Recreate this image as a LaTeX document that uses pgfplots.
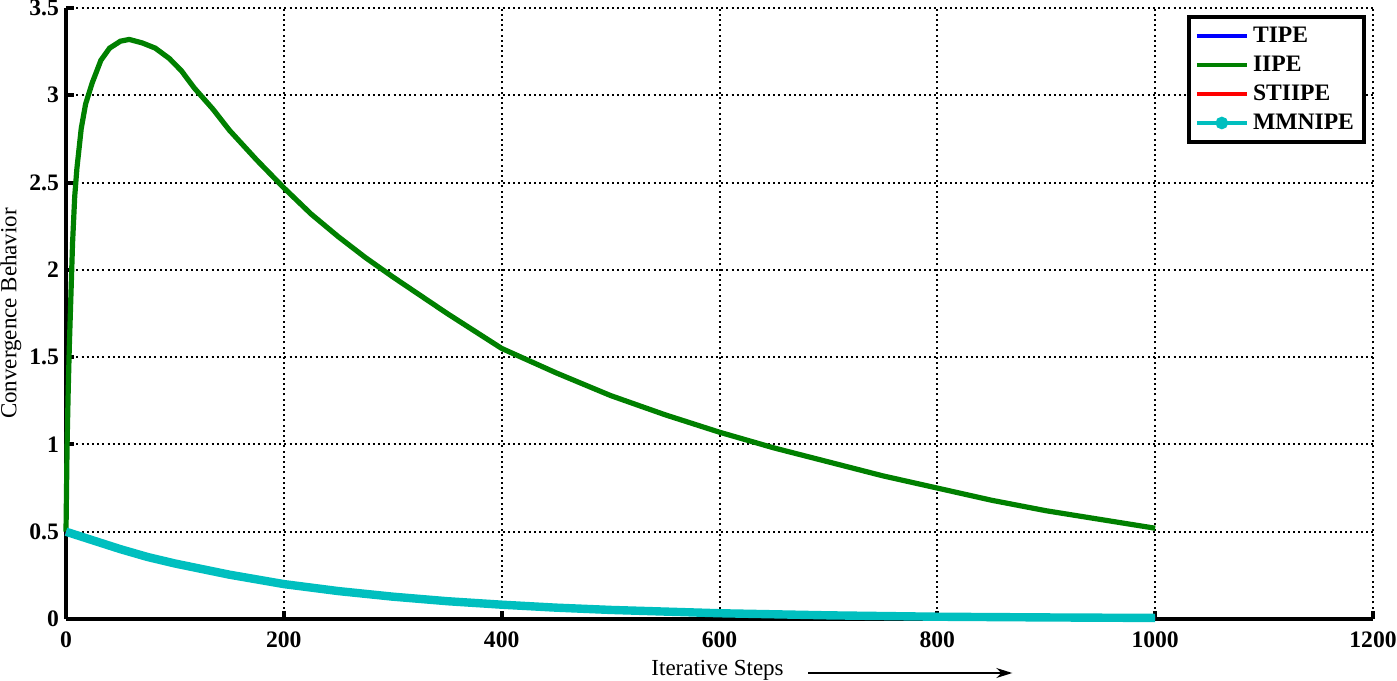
\documentclass[border=0pt]{standalone}
\usepackage{fontspec}
\setmainfont{Liberation Serif}
\usepackage{pgfplots}
\pgfplotsset{compat=1.18}
\usetikzlibrary{arrows.meta}

\definecolor{mgreen}{rgb}{0,0.5,0}
\definecolor{mcyan}{rgb}{0,0.75,0.75}

\begin{document}
\begin{tikzpicture}
\begin{axis}[
    at={(0,0)}, anchor=south west,
    scale only axis,
    width=653.5pt, height=305.5pt,
    xmin=0, xmax=1200, ymin=0, ymax=3.5,
    xtick={0,200,...,1200},
    ytick={0,0.5,...,3.5},
    axis lines=left,
    axis line style={-, line width=2pt},
    tick align=inside,
    major tick length=4pt,
    tick style={line width=2pt, black},
    grid=major,
    grid style={black, line width=1pt, dash pattern=on 1pt off 1.6pt},
    /pgf/number format/1000 sep={},
    /pgf/number format/assume math mode=true,
    ticklabel style={font=\fontsize{11.8}{13}\selectfont\bfseries},
    xticklabel style={yshift=-3pt},
    ylabel={Convergence Behavior},
    ylabel style={font=\fontsize{11.5}{13}\selectfont, inner sep=0pt,
        at={([xshift=-27.5pt]rel axis cs:0,0.5)}, anchor=center},
    clip=false,
    legend style={at={(0.9946,0.9885)}, anchor=north east, draw=black,
        line width=2pt, font=\fontsize{11.8}{13}\selectfont\bfseries,
        row sep=1.2pt, inner sep=3pt},
    legend cell align=left,
    legend image code/.code={
        \draw[mark repeat=2, mark phase=2, #1]
            plot coordinates {(0pt,0pt) (12.5pt,0pt) (25pt,0pt)};
    },
]

\addlegendimage{blue, line width=2pt}
\addlegendentry{TIPE}
\addlegendimage{mgreen, line width=2pt}
\addlegendentry{IIPE}
\addlegendimage{red, line width=2pt}
\addlegendentry{STIIPE}
\addlegendimage{mcyan, line width=2.2pt, mark=*, mark size=2pt, mark options={solid}}
\addlegendentry{MMNIPE}

% TIPE (hidden under MMNIPE)
\addplot[blue, line width=2pt, forget plot] coordinates {
(0,0.5)(25,0.45)(50,0.4)(75,0.355)(100,0.318)(150,0.254)(200,0.2)
(250,0.16)(300,0.128)(350,0.102)(400,0.082)(450,0.065)(500,0.052)
(600,0.033)(700,0.021)(800,0.013)(900,0.009)(1000,0.006)
};
% IIPE
\addplot[mgreen, line width=2.6pt, forget plot] coordinates {
(0,0.5)(1,1.0)(2,1.3)(3,1.55)(4,1.75)(6,2.15)(8,2.42)(10,2.58)(14,2.81)
(18,2.95)(24,3.07)(32,3.2)(40,3.27)(50,3.31)(58,3.32)(70,3.3)(82,3.27)
(95,3.21)(106,3.14)(118,3.04)(135,2.92)(150,2.8)(175,2.63)(200,2.47)
(225,2.32)(250,2.19)(275,2.07)(300,1.96)(350,1.75)(400,1.55)(450,1.41)
(500,1.28)(550,1.17)(600,1.07)(650,0.98)(700,0.9)(750,0.82)(800,0.75)
(850,0.68)(900,0.62)(950,0.57)(1000,0.52)
};
% STIIPE (hidden under MMNIPE)
\addplot[red, line width=2pt, forget plot] coordinates {
(0,0.5)(25,0.45)(50,0.4)(75,0.355)(100,0.318)(150,0.254)(200,0.2)
(250,0.16)(300,0.128)(350,0.102)(400,0.082)(450,0.065)(500,0.052)
(600,0.033)(700,0.021)(800,0.013)(900,0.009)(1000,0.006)
};
% MMNIPE
\addplot[mcyan, line width=4.2pt, forget plot] coordinates {
(0,0.5)(25,0.45)(50,0.4)(75,0.355)(100,0.318)(150,0.254)(200,0.2)
(250,0.16)(300,0.128)(350,0.102)(400,0.082)(450,0.065)(500,0.052)
(600,0.033)(700,0.021)(800,0.013)(900,0.009)(1000,0.006)
};

\node[font=\fontsize{11.5}{13}\selectfont, inner sep=0pt] at ([yshift=-25.5pt]rel axis cs:0.4985,0) {Iterative Steps};
\draw[line width=0.7pt, -{Stealth[length=8pt,width=5pt]}]
    ([yshift=-27pt]rel axis cs:0.568,0) -- ([yshift=-27pt]rel axis cs:0.724,0);
\end{axis}
\pgfresetboundingbox
\path[use as bounding box] (-33pt,-30.5pt) rectangle (665.5pt,309.5pt);
\end{tikzpicture}
\end{document}
